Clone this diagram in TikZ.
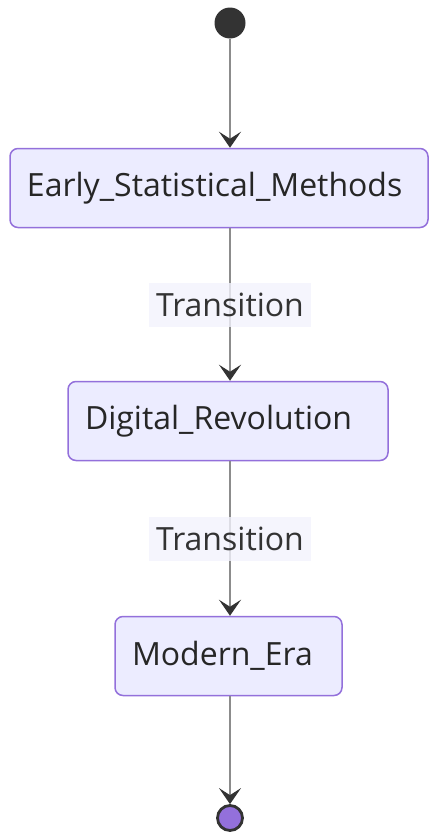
\documentclass[tikz,border=0pt]{standalone}
\usepackage{fontspec}
\setmainfont{Open Sans}
\usetikzlibrary{positioning,arrows.meta}
\definecolor{stfill}{HTML}{ECECFF}
\definecolor{stline}{HTML}{9370DB}
\definecolor{lblfill}{HTML}{F2F2FC}
\tikzset{
  every picture/.style={line width=1pt},
  state/.style={draw=stline,fill=stfill,rectangle,rounded corners=8pt,line width=1.5pt,
    minimum height=79pt,inner xsep=17pt,align=left,font=\fontsize{32}{36}\selectfont,text=black!85},
  start/.style={circle,fill=black!80,minimum size=31pt,inner sep=0},
  stop/.style={circle,draw=black!80,line width=2.8pt,fill=stline,minimum size=25pt,inner sep=0},
  lbl/.style={fill=lblfill,fill opacity=0.8,text opacity=1,minimum width=162pt,minimum height=44pt,
    inner sep=0,font=\fontsize{32}{36}\selectfont,text=black!80},
  flow/.style={-{Stealth[length=16pt,width=22pt,inset=7pt,color=black!80]},draw=black!45,line width=1.8pt},
}
\begin{document}
\begin{tikzpicture}[x=1pt,y=-1pt]
\useasboundingbox (0,0) rectangle (438,835);
% start
\node[start] (S) at (230,23) {};
% states
\node[state,text width=384pt] (ESM) at (219,188) {Early\_Statistical\_Methods};
\node[state,text width=286pt] (DR) at (228,421) {Digital\_Revolution};
\node[state,text width=193pt] (ME) at (228.5,656) {Modern\_Era};
% end
\node[stop] (E) at (230,818) {};
% transitions
\draw[flow] (S) -- (S|-ESM.north);
\draw[flow] (S|-ESM.south) -- node[lbl] (T1) {Transition} (S|-DR.north);
\draw[flow] (S|-DR.south) -- node[lbl] (T2) {Transition} (S|-ME.north);
\draw[flow] (S|-ME.south) -- (E);
\end{tikzpicture}
\end{document}
